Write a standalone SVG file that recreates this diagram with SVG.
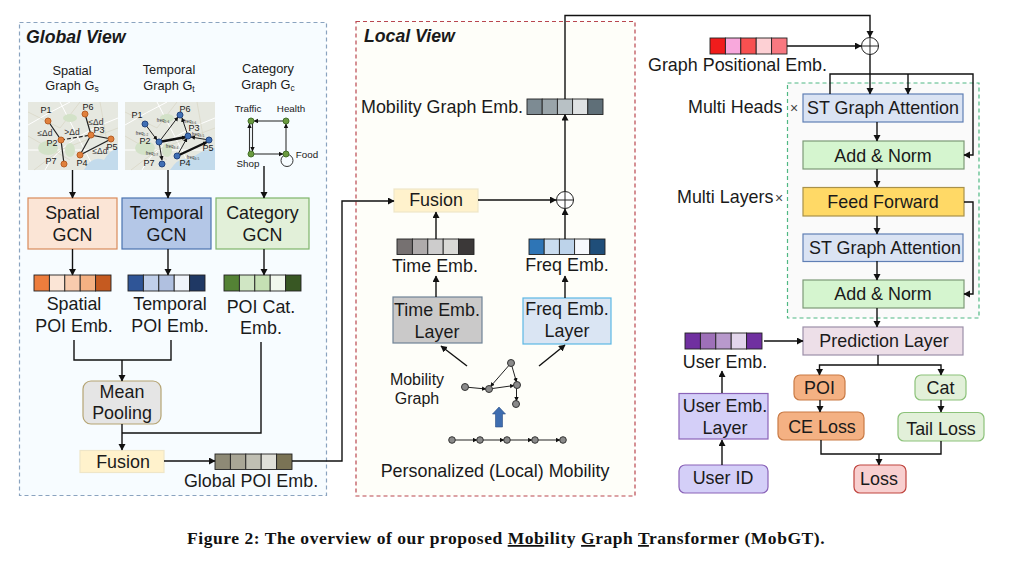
<svg xmlns="http://www.w3.org/2000/svg" width="1021" height="565" viewBox="0 0 1021 565">
<style>
text{font-family:"Liberation Sans",Arial,sans-serif;fill:#1a1a1a;font-size:17.9px}
.m{text-anchor:middle}
.h{font-size:12.8px}
.s{font-size:9px}
.k{font-size:9.8px}
.f{font-size:4.5px;fill:#333}
.d{font-size:8.5px;fill:#333}
.v{font-weight:bold;font-style:italic;font-size:17.7px}
.w{fill:none;stroke:#111;stroke-width:1.4}
.a{marker-end:url(#ar)}
.n{stroke:#333;stroke-width:1;fill:#8a8a8a}
.or{fill:#e0803c;stroke:#b85f25;stroke-width:1}
.bl{fill:#3f6fb5;stroke:#24457f;stroke-width:1}
.gr{fill:#6a9a3f;stroke:#44702a;stroke-width:1}
.c{stroke:#222;stroke-width:.9}
.o{fill:#fff;stroke:#222;stroke-width:1}
.road{fill:none;stroke:#fff;stroke-width:1}
.road2{fill:none;stroke:#d8d5c4;stroke-width:.7}
.cap{font-family:"Liberation Serif","Times New Roman",serif;font-weight:bold;font-size:17.5px;letter-spacing:.54px;fill:#111}
</style>
<defs>
<marker id="ar" markerUnits="userSpaceOnUse" markerWidth="8" markerHeight="8" refX="6" refY="3.5" orient="auto"><path d="M0 0L6.5 3.5L0 7Z" fill="#111"/></marker>
<marker id="as" markerUnits="userSpaceOnUse" markerWidth="6" markerHeight="6" refX="4" refY="2.2" orient="auto"><path d="M0 0L4.4 2.2L0 4.4Z" fill="#111"/></marker>
</defs>

<rect id="global-view-panel" x="19.5" y="22.5" width="307" height="473" fill="#f7fcff" stroke="#8aa3bf" stroke-width="1.2" stroke-dasharray="4 3"/>
<rect id="local-view-panel" x="356" y="21.5" width="279" height="474.5" fill="#fefef9" stroke="#b9474f" stroke-width="1.2" stroke-dasharray="4 3"/>
<rect id="encoder-panel" x="787.5" y="83" width="191.5" height="235" fill="#fafafa" stroke="#4fb883" stroke-width="1.2" stroke-dasharray="4 3"/>

<text x="26" y="43" class="v">Global View</text>
<text x="364" y="42" class="v">Local View</text>

<g id="spatial-graph">
<text x="72" y="75" class="h m">Spatial</text>
<text x="72" y="90" class="h m">Graph G<tspan font-size="8.500" dy="2">s</tspan></text>
<rect x="28" y="102" width="90" height="68" fill="#e6e8e0"/>
<path d="M28 125Q50 112 70 102M45 170Q60 140 118 118M60 102L95 170M28 150L118 150" class="road"/>
<path d="M28 112L60 128L80 102M34 170L60 150L118 128M100 102L112 170M28 136L70 160" class="road2"/>
<ellipse cx="48" cy="148" rx="10" ry="7" fill="#d3e2c8"/><ellipse cx="70" cy="118" rx="7" ry="4" fill="#d3e2c8"/><ellipse cx="70" cy="150" rx="5" ry="7" fill="#d3e2c8"/>
<path d="M84 170Q92 155 104 160Q110 150 118 148V170Z" fill="#c3dbec"/>
<path d="M48 121L61 140L64 164M85 114L91 135L111 139L80 155L91 135" fill="none" stroke="#222" stroke-width="1.2"/>
<path d="M61 140L91 135" fill="none" stroke="#222" stroke-width="1.2" stroke-dasharray="4 2"/>
<circle cx="48" cy="121" r="3" class="or"/><circle cx="85" cy="114" r="3" class="or"/><circle cx="91" cy="135" r="3" class="or"/><circle cx="111" cy="139" r="3" class="or"/><circle cx="61" cy="140" r="3" class="or"/><circle cx="80" cy="155" r="3" class="or"/><circle cx="64" cy="164" r="3" class="or"/>
<text x="46" y="113" class="s m">P1</text><text x="88" y="110" class="s m">P6</text><text x="99" y="133" class="s m">P3</text><text x="112" y="150" class="s m">P5</text><text x="52" y="146" class="s m">P2</text><text x="82" y="166" class="s m">P4</text><text x="51" y="164" class="s m">P7</text>
<text x="45" y="136" class="d m">≤Δd</text><text x="72" y="135" class="d m">&gt;Δd</text><text x="96" y="125" class="d m">≤Δd</text><text x="100" y="154" class="d m">≤Δd</text>
</g>

<g id="temporal-graph">
<text x="169" y="74" class="h m">Temporal</text>
<text x="169" y="90" class="h m">Graph G<tspan font-size="8.500" dy="2">t</tspan></text>
<rect x="125" y="102" width="90" height="68" fill="#e6e8e0"/>
<path d="M125 125Q147 112 167 102M142 170Q157 140 215 118M157 102L192 170M125 150L215 150" class="road"/>
<path d="M125 112L157 128L177 102M131 170L157 150L215 128M197 102L209 170M125 136L167 160" class="road2"/>
<ellipse cx="145" cy="148" rx="10" ry="7" fill="#d3e2c8"/><ellipse cx="167" cy="118" rx="7" ry="4" fill="#d3e2c8"/><ellipse cx="167" cy="150" rx="5" ry="7" fill="#d3e2c8"/>
<path d="M170 170Q180 155 190 160Q200 150 215 148V170Z" fill="#c3dbec"/>
<g fill="none" stroke="#222" stroke-width="1">
<path d="M145 124L157 140" marker-end="url(#as)"/><path d="M159 142L178 117" marker-end="url(#as)"/><path d="M188 136L182 118" marker-end="url(#as)"/><path d="M159 142L162 160" marker-end="url(#as)"/><path d="M177 156L187 138" marker-end="url(#as)"/><path d="M209 140L191 137" marker-end="url(#as)"/>
<path d="M159 142L186 137" stroke-width="2.4" stroke="#111" marker-end="url(#as)"/><path d="M177 156L207 142" stroke-width="2.4" stroke="#111" marker-end="url(#as)"/>
</g>
<circle cx="145" cy="124" r="3" class="bl"/><circle cx="180" cy="115" r="3" class="bl"/><circle cx="159" cy="142" r="3" class="bl"/><circle cx="188" cy="136" r="3" class="bl"/><circle cx="209" cy="140" r="3" class="bl"/><circle cx="177" cy="156" r="3" class="bl"/><circle cx="162" cy="164" r="3" class="bl"/>
<text x="137" y="118" class="s m">P1</text><text x="185" y="112" class="s m">P6</text><text x="145" y="144" class="s m">P2</text><text x="194" y="131" class="s m">P3</text><text x="208" y="151" class="s m">P5</text><text x="185" y="166" class="s m">P4</text><text x="149" y="166" class="s m">P7</text>
<text x="163" y="122" class="f m">freq₂,₆</text><text x="190" y="123" class="f m">freq₃,₆</text><text x="142" y="135" class="f m">freq₁,₂</text><text x="198" y="136" class="f m">freq₃,₅</text><text x="172" y="148" class="f m">freq₃,₄</text><text x="152" y="155" class="f m">freq₂,₇</text><text x="193" y="159" class="f m">freq₄,₅</text>
</g>

<g id="category-graph">
<text x="268" y="73" class="h m">Category</text>
<text x="268" y="89" class="h m">Graph G<tspan font-size="8.500" dy="2">c</tspan></text>
<circle cx="287" cy="160.500" r="6" fill="none" stroke="#333" stroke-width="1"/>
<g fill="none" stroke="#333" stroke-width="1.1">
<path d="M286 121H254" marker-end="url(#as)"/><path d="M249.500 154V124" marker-end="url(#as)"/><path d="M252.500 121V151" marker-end="url(#as)"/><path d="M251 154H283" marker-end="url(#as)"/><path d="M286 154V124" marker-end="url(#as)"/>
</g>
<circle cx="251" cy="121" r="3" class="gr"/><circle cx="286" cy="121" r="3" class="gr"/><circle cx="251" cy="154" r="3" class="gr"/><circle cx="286" cy="154" r="3" class="gr"/>
<text x="248" y="112" class="k m">Traffic</text><text x="291" y="112" class="k m">Health</text><text x="307" y="157.500" class="k m">Food</text><text x="248" y="167" class="k m">Shop</text>
</g>

<g id="spatial-gcn"><rect x="28" y="198" width="89" height="51" fill="#fbe5d6" stroke="#d98a5a" stroke-width="1.2"/><text x="72.500" y="219" class="m">Spatial</text><text x="72.500" y="241" class="m">GCN</text></g>
<g id="temporal-gcn"><rect x="122" y="198" width="89" height="51" fill="#b4c7e7" stroke="#4a72b0" stroke-width="1.2"/><text x="166.500" y="219" class="m">Temporal</text><text x="166.500" y="241" class="m">GCN</text></g>
<g id="category-gcn"><rect x="216" y="198" width="93" height="51" fill="#e2f0d9" stroke="#7fb56a" stroke-width="1.2"/><text x="262.500" y="219" class="m">Category</text><text x="262.500" y="241" class="m">GCN</text></g>

<g id="spatial-emb" class="c"><rect x="34" y="275" width="15.400" height="16" fill="#ed7d3d"/><rect x="49.400" y="275" width="15.400" height="16" fill="#fbe5d6"/><rect x="64.800" y="275" width="15.400" height="16" fill="#f8cbad"/><rect x="80.200" y="275" width="15.400" height="16" fill="#f4b183"/><rect x="95.600" y="275" width="15.400" height="16" fill="#c55a20"/></g>
<text x="74" y="310" class="m">Spatial</text><text x="74" y="332" class="m">POI Emb.</text>
<g id="temporal-emb" class="c"><rect x="128" y="275" width="15.400" height="16" fill="#2f5597"/><rect x="143.400" y="275" width="15.400" height="16" fill="#c0cfea"/><rect x="158.800" y="275" width="15.400" height="16" fill="#b0c0e0"/><rect x="174.200" y="275" width="15.400" height="16" fill="#eff3fa"/><rect x="189.600" y="275" width="15.400" height="16" fill="#1f3864"/></g>
<text x="170" y="310" class="m">Temporal</text><text x="170" y="332" class="m">POI Emb.</text>
<g id="category-emb" class="c"><rect x="224" y="275" width="15.400" height="16" fill="#548235"/><rect x="239.400" y="275" width="15.400" height="16" fill="#d0e6c4"/><rect x="254.800" y="275" width="15.400" height="16" fill="#c5e0b4"/><rect x="270.200" y="275" width="15.400" height="16" fill="#f1f7ed"/><rect x="285.600" y="275" width="15.400" height="16" fill="#385723"/></g>
<text x="261" y="313" class="m">POI Cat.</text><text x="261" y="334" class="m">Emb.</text>

<g id="mean-pooling"><rect x="83" y="381" width="78" height="43" rx="8" fill="#e5e5e5" stroke="#b5a473" stroke-width="1.2"/><text x="122" y="398" class="m">Mean</text><text x="122" y="419" class="m">Pooling</text></g>
<g id="global-fusion"><rect x="80" y="450.500" width="84" height="22" fill="#fff2cc" stroke="#efe6c8" stroke-width="1.2"/><text x="123" y="468" class="m">Fusion</text></g>
<g id="global-emb" class="c"><rect x="215" y="454" width="15.400" height="15.500" fill="#8e8a76"/><rect x="230.400" y="454" width="15.400" height="15.500" fill="#a9a696"/><rect x="245.800" y="454" width="15.400" height="15.500" fill="#c0bfb3"/><rect x="261.200" y="454" width="15.400" height="15.500" fill="#dfdfd8"/><rect x="276.600" y="454" width="15.400" height="15.500" fill="#7a7355"/></g>
<text x="251" y="487" class="m">Global POI Emb.</text>

<g id="mobility-emb" class="c"><rect x="527" y="99" width="15.200" height="15.500" fill="#7d8b93"/><rect x="542.200" y="99" width="15.200" height="15.500" fill="#9aa5aa"/><rect x="557.400" y="99" width="15.200" height="15.500" fill="#b8c1c5"/><rect x="572.600" y="99" width="15.200" height="15.500" fill="#dfe2e3"/><rect x="587.800" y="99" width="15.200" height="15.500" fill="#5f6f78"/></g>
<text x="361" y="113">Mobility Graph Emb.</text>
<g id="local-fusion"><rect x="394" y="189" width="84" height="23" fill="#fff2cc" stroke="#efe6c8" stroke-width="1.2"/><text x="436" y="206" class="m">Fusion</text></g>
<g id="local-sum"><circle cx="565" cy="200" r="8.500" class="o"/><path d="M556.500 200H573.500M565 191.500V208.500" stroke="#222" stroke-width="1"/></g>
<g id="time-emb" class="c"><rect x="397" y="239" width="15.400" height="15.500" fill="#767171"/><rect x="412.400" y="239" width="15.400" height="15.500" fill="#afabab"/><rect x="427.800" y="239" width="15.400" height="15.500" fill="#cdcccc"/><rect x="443.200" y="239" width="15.400" height="15.500" fill="#d9d9d6"/><rect x="458.600" y="239" width="15.400" height="15.500" fill="#3b3838"/></g>
<text x="435" y="272" class="m">Time Emb.</text>
<g id="freq-emb" class="c"><rect x="529" y="239" width="15.200" height="15.500" fill="#2e75b6"/><rect x="544.200" y="239" width="15.200" height="15.500" fill="#c9dcef"/><rect x="559.400" y="239" width="15.200" height="15.500" fill="#bdd3ea"/><rect x="574.600" y="239" width="15.200" height="15.500" fill="#f5f8fc"/><rect x="589.800" y="239" width="15.200" height="15.500" fill="#1f4e79"/></g>
<text x="567" y="271" class="m">Freq Emb.</text>
<g id="time-layer"><rect x="393" y="297" width="89" height="46" fill="#cac9c9" stroke="#6f8397" stroke-width="1.2"/><text x="437" y="316" class="m">Time Emb.</text><text x="437" y="338" class="m">Layer</text></g>
<g id="freq-layer"><rect x="523" y="298" width="88" height="46" fill="#dae5f3" stroke="#5cb7e4" stroke-width="1.2"/><text x="567" y="315" class="m">Freq Emb.</text><text x="567" y="337" class="m">Layer</text></g>

<g id="mobility-graph">
<text x="417" y="385" class="m" style="font-size:16px">Mobility</text><text x="417" y="404" class="m" style="font-size:16px">Graph</text>
<g fill="none" stroke="#222" stroke-width="1"><path d="M465 387L486 389" marker-end="url(#as)"/><path d="M489 389L514 385.500" marker-end="url(#as)"/><path d="M511 363L490.500 386.500" marker-end="url(#as)"/><path d="M511 363L516.500 382" marker-end="url(#as)"/><path d="M516.500 385V401" marker-end="url(#as)"/></g>
<circle cx="465" cy="387" r="3.500" class="n"/><circle cx="489" cy="389" r="3.500" class="n"/><circle cx="517" cy="385" r="3.500" class="n"/><circle cx="511" cy="363" r="3.500" class="n"/><circle cx="516" cy="404" r="3.500" class="n"/>
</g>
<path id="up-arrow" d="M499 407L505.500 414H502.500V427H495.500V414H492.500Z" fill="#3e6db0" stroke="#2b4f85" stroke-width=".6"/>
<g id="mobility-chain">
<g fill="none" stroke="#222" stroke-width="1"><path d="M452 440H477" marker-end="url(#as)"/><path d="M480 440H504" marker-end="url(#as)"/><path d="M507 440H532" marker-end="url(#as)"/><path d="M535 440H560" marker-end="url(#as)"/></g>
<circle cx="452" cy="440" r="3.300" class="n"/><circle cx="480" cy="440" r="3.300" class="n"/><circle cx="507" cy="440" r="3.300" class="n"/><circle cx="535" cy="440" r="3.300" class="n"/><circle cx="563" cy="440" r="3.300" class="n"/>
</g>
<text x="495" y="477" class="m">Personalized (Local) Mobility</text>

<g id="pos-emb" class="c"><rect x="710" y="38" width="15.400" height="16" fill="#f01c1c"/><rect x="725.400" y="38" width="15.400" height="16" fill="#f8a8dc"/><rect x="740.800" y="38" width="15.400" height="16" fill="#f85050"/><rect x="756.200" y="38" width="15.400" height="16" fill="#fdd0d4"/><rect x="771.600" y="38" width="15.400" height="16" fill="#f87880"/></g>
<text x="648" y="71">Graph Positional Emb.</text>
<g id="top-sum"><circle cx="870" cy="46" r="8.500" class="o"/><path d="M861.500 46H878.500M870 37.500V54.500" stroke="#222" stroke-width="1"/></g>
<text x="688" y="113">Multi Heads</text><text x="794" y="113" class="m" style="font-size:14px;fill:#444">×</text>
<text x="677" y="203">Multi Layers</text><text x="779" y="203" class="m" style="font-size:14px;fill:#444">×</text>

<g id="st-attention-1"><rect x="803" y="94" width="160" height="28" fill="#dae3f3" stroke="#5f7fb5" stroke-width="1.2"/><text x="883" y="114" class="m">ST Graph Attention</text></g>
<g id="add-norm-1"><rect x="803" y="141" width="161" height="28" fill="#d5f5cf" stroke="#7d9a77" stroke-width="1.2"/><text x="883" y="162" class="m">Add &amp; Norm</text></g>
<g id="feed-forward"><rect x="803" y="187.500" width="161" height="28.500" fill="#ffd966" stroke="#a8914a" stroke-width="1.2"/><text x="883" y="208" class="m">Feed Forward</text></g>
<g id="st-attention-2"><rect x="803" y="234" width="160" height="27.500" fill="#dae3f3" stroke="#5f7fb5" stroke-width="1.2"/><text x="885" y="254" class="m">ST Graph Attention</text></g>
<g id="add-norm-2"><rect x="803" y="280" width="161" height="28" fill="#d5f5cf" stroke="#7d9a77" stroke-width="1.2"/><text x="883" y="300" class="m">Add &amp; Norm</text></g>
<g id="prediction-layer"><rect x="803" y="327" width="160" height="28" fill="#eddfe8" stroke="#9c8fa8" stroke-width="1.2"/><text x="884" y="347" class="m">Prediction Layer</text></g>
<g id="user-emb" class="c"><rect x="685" y="333" width="15.400" height="16" fill="#7030a0"/><rect x="700.400" y="333" width="15.400" height="16" fill="#9e70b8"/><rect x="715.800" y="333" width="15.400" height="16" fill="#b899cc"/><rect x="731.200" y="333" width="15.400" height="16" fill="#e3d6ec"/><rect x="746.600" y="333" width="15.400" height="16" fill="#7030a0"/></g>
<text x="725" y="368" class="m">User Emb.</text>
<g id="user-layer"><rect x="679" y="393.500" width="89" height="45.500" fill="#d4cff8" stroke="#8a63b8" stroke-width="1.2"/><text x="725" y="412" class="m">User Emb.</text><text x="725" y="434" class="m">Layer</text></g>
<g id="user-id"><rect x="679" y="465" width="89" height="28" rx="6" fill="#d4cff8" stroke="#8a63b8" stroke-width="1.2"/><text x="723" y="484" class="m">User ID</text></g>
<g id="poi"><rect x="794" y="375" width="51" height="25" rx="6" fill="#f4b183" stroke="#c97a45" stroke-width="1.2"/><text x="819.500" y="394" class="m">POI</text></g>
<g id="cat"><rect x="915" y="375" width="51" height="25" rx="6" fill="#e2f0d9" stroke="#8cc27a" stroke-width="1.2"/><text x="940.500" y="394" class="m">Cat</text></g>
<g id="ce-loss"><rect x="778" y="412" width="86" height="28" rx="6" fill="#f4b183" stroke="#c97a45" stroke-width="1.2"/><text x="822" y="433" class="m">CE Loss</text></g>
<g id="tail-loss"><rect x="898" y="412.500" width="86" height="28.500" rx="6" fill="#e2f0d9" stroke="#8cc27a" stroke-width="1.2"/><text x="941" y="435" class="m">Tail Loss</text></g>
<g id="loss"><rect x="854" y="465" width="52" height="28" rx="6" fill="#f8cfcf" stroke="#c0453f" stroke-width="1.2"/><text x="879" y="485" class="m">Loss</text></g>

<g id="connectors">
<path class="w a" d="M72.500 170V198"/><path class="w a" d="M168 170V198"/><path class="w a" d="M264 166V198"/>
<path class="w a" d="M72.500 249V275"/><path class="w a" d="M168 249V275"/><path class="w a" d="M264 249V275"/>
<path class="w" d="M74 340V360H171V340"/><path class="w a" d="M122 360V381"/><path class="w a" d="M122 424V450"/><path class="w" d="M261 342V433H122"/>
<path class="w a" d="M164 461H215"/><path class="w a" d="M292 461H342V201H394"/>
<path class="w a" d="M478 200H556"/><path class="w a" d="M565 239V209"/><path class="w a" d="M565 191V114.500"/><path class="w a" d="M436 239V212"/>
<path class="w a" d="M436 297V276"/><path class="w a" d="M565 298V276"/><path class="w a" d="M467 366L441 346"/><path class="w a" d="M539 366L565 345"/>
<path class="w a" d="M565 99V15.500H870V37"/><path class="w a" d="M787 46H861"/>
<path class="w a" d="M870 54.500V94"/><path class="w a" d="M830 94V74H973V155H964"/><path class="w a" d="M908 74V94"/>
<path class="w a" d="M877 122V141"/><path class="w a" d="M877 169V187"/><path class="w a" d="M877 216V234"/><path class="w a" d="M877 261V280"/><path class="w a" d="M877 308V327"/>
<path class="w a" d="M964 202H973V294H964"/>
<path class="w a" d="M764 341H803"/><path class="w a" d="M722 393V371"/><path class="w a" d="M722 465V440"/>
<path class="w" d="M878 355V365"/><path class="w a" d="M878 365H819.500V375"/><path class="w a" d="M878 365H941V375"/>
<path class="w a" d="M820 400V412"/><path class="w a" d="M941 400V412"/>
<path class="w" d="M821 440V454H941V441"/><path class="w a" d="M879 454V465"/>
</g>

<text x="187" y="544" class="cap">Figure 2: The overview of our proposed <tspan text-decoration="underline">Mob</tspan>ility <tspan text-decoration="underline">G</tspan>raph <tspan text-decoration="underline">T</tspan>ransformer (MobGT).</text>
</svg>
